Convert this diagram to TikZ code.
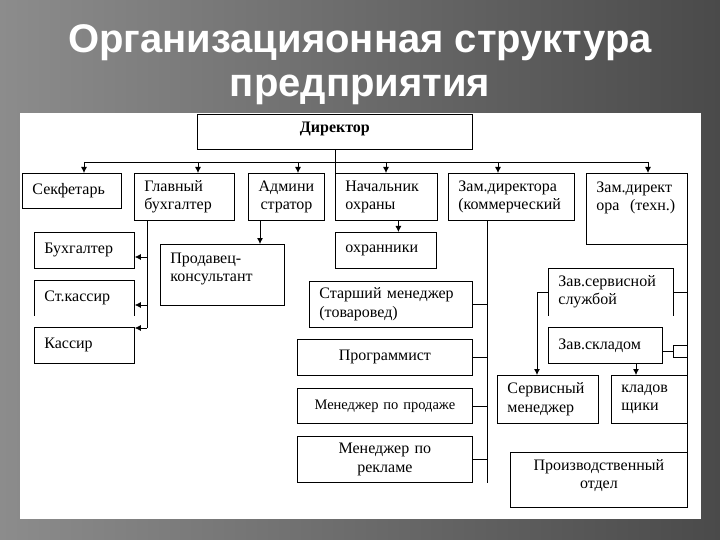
\documentclass[tikz,border=0pt]{standalone}
\usepackage{fontspec}
\setmainfont{Liberation Serif}
\newfontfamily\titlefont{Liberation Sans}
\usetikzlibrary{arrows.meta, positioning, calc}
\definecolor{slidelight}{HTML}{8C8C8C}
\definecolor{slidedark}{HTML}{4A4A4A}
\lefthyphenmin=64
\newcommand{\openbox}[1]{%
  \draw[link] (#1.south west) -- (#1.north west) -- (#1.north east) -- (#1.south east);%
}

\begin{document}
\begin{tikzpicture}[x=1pt, y=-1pt, >={Latex[length=6pt,width=6pt]},
    link/.style={line width=0.8pt},
    orgbox/.style={draw, line width=0.8pt, anchor=north west, inner xsep=10pt,
      inner ysep=0pt, align=left, font=\fontsize{16}{18.5}\selectfont},
    openorgbox/.style={orgbox, draw=none},
    titletext/.style={font=\titlefont\bfseries\fontsize{40}{44}\selectfont,
      text=white, anchor=base, inner sep=0pt}]
  \useasboundingbox (0,0) rectangle (720,540);
  \shade[left color=slidelight, right color=slidedark] (0,0) rectangle (720,540);
  \fill[white] (20,113) rectangle (701,519);

  \node[titletext] (titlea) at (360,53) {Организацияонная структура};
  \node[titletext] (titleb) at (360,97) {предприятия};

  \node[orgbox, minimum width=275pt, minimum height=35pt, text width=255pt, align=center,
    text depth=10pt, font=\fontsize{16}{18.5}\selectfont\bfseries] (dir) at (197,114) {Директор};

  \node[orgbox, minimum width=99pt, minimum height=35pt, text width=79pt] (secr) at (22,173) {Секфетарь};
  \node[orgbox, minimum width=100pt, minimum height=47pt, text width=80pt] (glavbuh) at (134,173) {Главный\\бухгалтер};
  \node[orgbox, minimum width=76pt, minimum height=47pt, text width=56pt, align=center] (admin) at (248,173) {Админи\\стратор};
  \node[orgbox, minimum width=102pt, minimum height=47pt, text width=82pt] (nachohr) at (335,173) {Начальник\\охраны};
  \node[orgbox, minimum width=126pt, minimum height=47pt, text width=106pt] (zamkom) at (448,173) {Зам.директора\\(коммерческий};
  \node[orgbox, minimum width=101pt, minimum height=71pt, text width=81pt, text depth=44pt] (zamteh) at (586,173) {Зам.директ\\ора~ (техн.)};

  \node[orgbox, minimum width=100pt, minimum height=36pt, text width=80pt] (buhg) at (34,232) {Бухгалтер};
  \node[openorgbox, minimum width=100pt, minimum height=35pt, text width=80pt] (stkas) at (34,280) {Ст.кассир};
  \node[orgbox, minimum width=100pt, minimum height=36pt, text width=80pt] (kassir) at (34,327) {Кассир};
  \node[orgbox, minimum width=124pt, minimum height=61pt, text width=104pt, text depth=34pt] (prodav) at (160,244) {Продавец-\\консультант};
  \node[orgbox, minimum width=101pt, minimum height=36pt, text width=81pt] (ohrana) at (335,232) {охранники};

  \node[orgbox, minimum width=163pt, minimum height=46pt, text width=143pt] (stmen) at (309,281) {Старший менеджер\\(товаровед)};
  \node[orgbox, minimum width=175pt, minimum height=36pt, text width=155pt, align=center] (progr) at (297,339) {Программист};
  \node[orgbox, minimum width=175pt, minimum height=35pt, text width=155pt, align=center,
    font=\fontsize{14.5}{17}\selectfont] (menprod) at (297,388) {Менеджер по продаже};
  \node[orgbox, minimum width=175pt, minimum height=46pt, text width=155pt, align=center] (menrekl) at (297,436) {Менеджер по\\рекламе};

  \node[openorgbox, minimum width=125pt, minimum height=47pt, text width=105pt] (zavserv) at (548,268) {Зав.сервисной\\службой};
  \node[orgbox, minimum width=114pt, minimum height=36pt, text width=94pt] (zavsklad) at (548,327) {Зав.складом};
  \node[orgbox, minimum width=14pt, minimum height=12pt, inner xsep=0pt] (sq) at (673,345) {};
  \node[orgbox, minimum width=101pt, minimum height=48pt, text width=81pt] (servmen) at (497,375) {Сервисный\\менеджер};
  \node[orgbox, minimum width=76pt, minimum height=48pt, text width=56pt] (kladov) at (611,375) {кладов\\щики};
  \node[orgbox, minimum width=177pt, minimum height=55pt, text width=157pt, align=center, text depth=30pt] (proizv) at (510,452) {Производственный\\отдел};

  \openbox{stkas}
  \openbox{zavserv}

  \coordinate (busl) at (84,162);
  \coordinate (busr) at (648,162);
  \draw[link] (nachohr.north west |- dir.south) -- (nachohr.north west);
  \draw[link] (busl) -- (busr);
  \foreach \xx/\nn in {84/secr,198/glavbuh,298/admin,386/nachohr,498/zamkom,648/zamteh}
    \draw[link,->] (\xx,162) -- (\xx,162 |- \nn.north);

  \draw[link] (147,0 |- glavbuh.south) -- (147,328);
  \foreach \yy/\nn in {257/buhg,305/stkas,328/kassir}
    \draw[link,->] (147,\yy) -- (\nn.east |- 147,\yy);
  \draw[link,->] (260,0 |- admin.south) -- (260,0 |- prodav.north);
  \draw[link,->] ([xshift=12pt]nachohr.south) -- ([xshift=12pt]nachohr.south |- ohrana.north);

  \draw[link] (487,0 |- zamkom.south) -- (487,0 |- menrekl.south);
  \foreach \nn in {stmen,progr,menprod,menrekl}
    \draw[link] (\nn.east) -- (\nn.east -| 487,0);

  \draw[link] (zamteh.south east) -- (proizv.south east);
  \draw[link] (zavserv.east) -- (zavserv.east -| zamteh.east);
  \draw[link] (zavsklad.east |- sq.west) -- (sq.west);
  \draw[link,->] (zavserv.west) -| ([xshift=40pt]servmen.north west);
  \draw[link,->] ([xshift=25pt]kladov.north west |- zavsklad.south) -- ([xshift=25pt]kladov.north west);
\end{tikzpicture}
\end{document}
